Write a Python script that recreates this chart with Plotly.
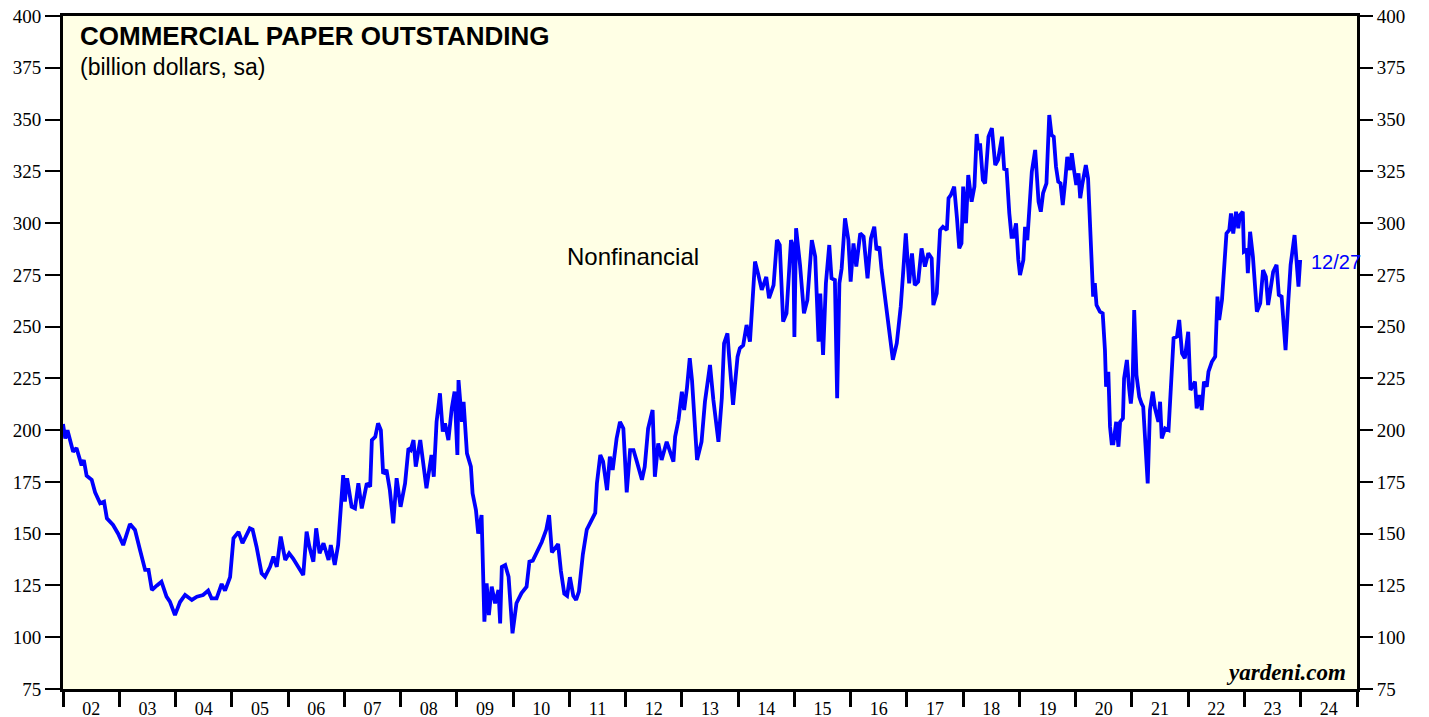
import plotly.graph_objects as go

# Nonfinancial commercial paper outstanding, billion dollars, sa
dates = [
    2002.00, 2002.04, 2002.08, 2002.18, 2002.24, 2002.27, 2002.33, 2002.37, 2002.42, 2002.51,
    2002.57, 2002.66, 2002.73, 2002.78, 2002.89, 2002.98, 2003.07, 2003.19, 2003.28, 2003.37,
    2003.46, 2003.52, 2003.58, 2003.67, 2003.75, 2003.84, 2003.90, 2003.99, 2004.08, 2004.17,
    2004.29, 2004.38, 2004.49, 2004.58, 2004.64, 2004.73, 2004.82, 2004.88, 2004.97, 2005.03,
    2005.12, 2005.19, 2005.32, 2005.37, 2005.44, 2005.53, 2005.59, 2005.68, 2005.74, 2005.80,
    2005.87, 2005.95, 2006.02, 2006.09, 2006.18, 2006.21, 2006.27, 2006.33, 2006.38, 2006.45,
    2006.50, 2006.56, 2006.63, 2006.72, 2006.76, 2006.83, 2006.89, 2006.98, 2007.01, 2007.05,
    2007.13, 2007.19, 2007.25, 2007.31, 2007.40, 2007.46, 2007.49, 2007.55, 2007.58, 2007.60,
    2007.65, 2007.69, 2007.75, 2007.81, 2007.87, 2007.93, 2008.00, 2008.08, 2008.14, 2008.18,
    2008.23, 2008.27, 2008.35, 2008.40, 2008.46, 2008.55, 2008.59, 2008.64, 2008.70, 2008.75,
    2008.79, 2008.85, 2008.91, 2008.96, 2009.01, 2009.03, 2009.09, 2009.12, 2009.18, 2009.25,
    2009.28, 2009.34, 2009.38, 2009.44, 2009.49, 2009.53, 2009.57, 2009.62, 2009.68, 2009.74,
    2009.77, 2009.80, 2009.86, 2009.92, 2009.99, 2010.06, 2010.15, 2010.24, 2010.29, 2010.35,
    2010.44, 2010.51, 2010.59, 2010.64, 2010.69, 2010.75, 2010.80, 2010.85, 2010.91, 2010.96,
    2011.01, 2011.07, 2011.12, 2011.17, 2011.24, 2011.31, 2011.40, 2011.46, 2011.49, 2011.55,
    2011.60, 2011.67, 2011.72, 2011.77, 2011.84, 2011.90, 2011.96, 2012.02, 2012.08, 2012.14,
    2012.20, 2012.29, 2012.34, 2012.40, 2012.48, 2012.52, 2012.58, 2012.64, 2012.73, 2012.79,
    2012.85, 2012.88, 2012.94, 2013.00, 2013.04, 2013.09, 2013.14, 2013.18, 2013.23, 2013.27,
    2013.35, 2013.41, 2013.50, 2013.56, 2013.65, 2013.71, 2013.75, 2013.81, 2013.84, 2013.91,
    2013.99, 2014.03, 2014.09, 2014.15, 2014.21, 2014.26, 2014.30, 2014.36, 2014.42, 2014.50,
    2014.55, 2014.63, 2014.69, 2014.74, 2014.80, 2014.86, 2014.94, 2014.98, 2015.00, 2015.03,
    2015.10, 2015.17, 2015.23, 2015.31, 2015.37, 2015.43, 2015.46, 2015.51, 2015.56, 2015.62,
    2015.66, 2015.72, 2015.76, 2015.80, 2015.84, 2015.90, 2015.96, 2016.00, 2016.05, 2016.10,
    2016.17, 2016.23, 2016.30, 2016.36, 2016.42, 2016.46, 2016.51, 2016.55, 2016.61, 2016.67,
    2016.75, 2016.82, 2016.89, 2016.93, 2016.98, 2017.04, 2017.09, 2017.14, 2017.20, 2017.26,
    2017.32, 2017.38, 2017.44, 2017.47, 2017.53, 2017.59, 2017.64, 2017.71, 2017.74, 2017.78,
    2017.84, 2017.89, 2017.93, 2017.97, 2018.00, 2018.05, 2018.09, 2018.15, 2018.20, 2018.24,
    2018.27, 2018.30, 2018.35, 2018.39, 2018.45, 2018.51, 2018.57, 2018.62, 2018.69, 2018.73,
    2018.77, 2018.82, 2018.86, 2018.89, 2018.94, 2018.98, 2019.01, 2019.07, 2019.10, 2019.14,
    2019.19, 2019.22, 2019.28, 2019.34, 2019.38, 2019.42, 2019.48, 2019.53, 2019.57, 2019.61,
    2019.65, 2019.69, 2019.73, 2019.77, 2019.81, 2019.85, 2019.90, 2019.93, 2019.97, 2020.01,
    2020.05, 2020.08, 2020.12, 2020.18, 2020.22, 2020.25, 2020.28, 2020.31, 2020.34, 2020.37,
    2020.43, 2020.48, 2020.52, 2020.54, 2020.58, 2020.61, 2020.64, 2020.67, 2020.72, 2020.76,
    2020.79, 2020.84, 2020.86, 2020.91, 2020.95, 2020.98, 2021.01, 2021.04, 2021.08, 2021.13,
    2021.17, 2021.20, 2021.28, 2021.32, 2021.37, 2021.41, 2021.47, 2021.50, 2021.53, 2021.59,
    2021.65, 2021.69, 2021.74, 2021.80, 2021.84, 2021.89, 2021.94, 2022.00, 2022.04, 2022.12,
    2022.15, 2022.20, 2022.24, 2022.28, 2022.33, 2022.36, 2022.42, 2022.48, 2022.52, 2022.55,
    2022.60, 2022.68, 2022.73, 2022.76, 2022.80, 2022.85, 2022.89, 2022.92, 2022.97, 2022.99,
    2023.04, 2023.06, 2023.10, 2023.15, 2023.22, 2023.28, 2023.33, 2023.38, 2023.42, 2023.47,
    2023.51, 2023.57, 2023.61, 2023.66, 2023.73, 2023.78, 2023.82, 2023.89, 2023.93, 2023.96,
    2023.99,
]
cp_nonfin = [
    203.0, 196.0, 200.0, 189.6, 191.4, 188.0, 183.0, 185.6, 178.0, 176.0,
    170.0, 164.7, 165.5, 157.4, 154.2, 150.0, 144.5, 154.7, 151.8, 142.0,
    132.5, 132.5, 122.8, 125.0, 126.8, 119.6, 117.2, 110.7, 117.0, 120.4,
    118.0, 119.6, 120.4, 122.5, 118.8, 118.8, 125.7, 122.5, 129.0, 147.8,
    150.9, 145.4, 152.6, 152.0, 143.7, 130.9, 129.2, 134.0, 138.9, 134.0,
    148.6, 137.3, 140.5, 138.0, 134.0, 132.5, 130.0, 151.0, 143.7, 136.5,
    152.6, 140.5, 145.4, 137.3, 144.5, 134.9, 144.5, 178.3, 165.5, 176.8,
    163.0, 162.2, 174.3, 162.2, 174.3, 172.7, 195.2, 196.8, 201.7, 203.3,
    200.0, 179.0, 180.8, 171.0, 155.0, 176.8, 163.0, 174.3, 191.2, 190.4,
    195.2, 182.4, 195.2, 184.0, 172.0, 188.0, 177.5, 204.0, 217.8, 199.3,
    203.3, 195.2, 210.6, 218.6, 188.0, 224.2, 204.0, 213.7, 188.8, 182.4,
    169.5, 161.4, 150.0, 159.0, 107.5, 126.0, 110.7, 124.4, 116.4, 122.8,
    106.7, 134.0, 134.9, 129.2, 101.9, 116.4, 121.3, 124.4, 136.5, 137.0,
    142.0, 146.0, 152.0, 159.0, 141.0, 143.0, 145.0, 132.0, 121.0, 120.0,
    129.0, 120.0, 118.0, 122.0, 140.0, 152.0, 157.4, 160.0, 174.3, 188.0,
    184.8, 171.0, 187.2, 180.8, 196.0, 204.0, 200.8, 170.0, 190.4, 190.4,
    184.8, 176.0, 182.4, 200.8, 209.7, 177.5, 193.6, 185.6, 194.4, 188.8,
    184.8, 196.8, 204.9, 218.6, 209.7, 220.2, 234.7, 224.2, 200.0, 185.6,
    194.4, 213.7, 231.5, 214.6, 194.4, 215.4, 241.9, 246.7, 235.5, 212.2,
    235.5, 239.5, 241.0, 250.8, 242.7, 267.7, 281.4, 275.0, 267.7, 274.0,
    263.7, 270.0, 291.8, 289.4, 252.4, 256.4, 291.8, 288.6, 245.0, 297.5,
    279.8, 256.4, 262.8, 291.8, 283.8, 242.7, 266.0, 236.3, 270.9, 289.4,
    273.3, 272.5, 215.4, 270.9, 278.1, 302.3, 291.8, 271.7, 290.2, 279.0,
    295.0, 293.4, 273.3, 292.6, 298.2, 287.0, 288.6, 277.3, 265.3, 253.2,
    234.0, 242.0, 259.6, 274.9, 295.0, 270.9, 285.4, 270.0, 271.7, 287.8,
    279.0, 285.4, 283.0, 260.4, 266.0, 296.7, 298.2, 296.7, 312.0, 313.5,
    317.6, 302.3, 287.8, 290.2, 317.6, 299.9, 323.2, 310.3, 317.6, 343.0,
    335.3, 338.5, 320.8, 319.2, 341.7, 345.8, 328.0, 330.5, 341.7, 325.6,
    326.5, 304.7, 293.4, 293.4, 299.9, 282.2, 274.9, 282.2, 298.2, 291.8,
    312.7, 324.8, 335.3, 310.3, 305.5, 314.4, 319.2, 352.2, 342.5, 341.7,
    327.2, 320.0, 319.2, 308.7, 319.2, 332.0, 325.6, 333.7, 325.6, 318.4,
    324.0, 312.0, 319.2, 328.0, 321.6, 299.9, 290.2, 264.5, 271.0, 260.4,
    257.2, 256.4, 238.7, 221.0, 228.2, 201.7, 193.6, 193.6, 204.0, 192.0,
    204.0, 205.7, 225.0, 233.9, 220.2, 212.9, 221.0, 258.0, 226.6, 216.1,
    212.9, 211.3, 174.3, 209.7, 218.6, 210.5, 204.0, 213.7, 196.0, 200.8,
    200.0, 217.8, 244.4, 245.2, 253.2, 237.1, 234.7, 247.5, 219.4, 223.4,
    210.5, 217.0, 209.7, 223.4, 221.0, 228.2, 233.0, 235.5, 264.5, 253.2,
    262.8, 295.0, 296.7, 304.7, 295.0, 305.5, 297.5, 303.9, 305.5, 286.2,
    287.0, 275.8, 295.8, 283.8, 257.2, 261.3, 277.3, 274.1, 260.4, 269.3,
    276.5, 279.8, 265.3, 264.5, 238.7, 262.8, 279.8, 294.2, 277.3, 269.3,
    282.2,
]

years = list(range(2002, 2025))
year_labels = ['%02d' % (y % 100) for y in years]
y_ticks = list(range(75, 401, 25))

serif = 'Liberation Serif, Times New Roman, serif'
sans = 'Liberation Sans, Arial, sans-serif'

fig = go.Figure()
fig.add_trace(go.Scatter(x=dates, y=cp_nonfin, mode='lines',
                         line=dict(color='#0000FF', width=3.8),
                         name='Nonfinancial', hoverinfo='x+y'))
# invisible trace so the right-hand axis is drawn
fig.add_trace(go.Scatter(x=[dates[0]], y=[cp_nonfin[0]], yaxis='y2', mode='markers',
                         marker=dict(opacity=0), hoverinfo='skip', showlegend=False))

fig.update_layout(
    width=1429, height=717,
    margin=dict(l=63, r=72, t=16, b=28, autoexpand=False),
    paper_bgcolor='white',
    plot_bgcolor='#FFFFE5',
    showlegend=False,
    xaxis=dict(range=[2002, 2025], tickvals=[y + 0.5 for y in years], ticktext=year_labels,
               ticks='outside', ticklen=1, tickcolor='rgba(0,0,0,0)',
               minor=dict(tickvals=list(range(2002, 2026)), ticks='outside', ticklen=15,
                          tickwidth=2.5, tickcolor='black', showgrid=False),
               showline=True, linewidth=3, linecolor='black', mirror=True,
               showgrid=False, zeroline=False, automargin=False,
               tickfont=dict(family=serif, size=18, color='black')),
    yaxis=dict(range=[75, 400], tickvals=y_ticks, ticks='outside', ticklen=15,
               tickwidth=1.5, tickcolor='black',
               showline=True, linewidth=3, linecolor='black', mirror=True,
               showgrid=False, zeroline=False, automargin=False,
               tickfont=dict(family=serif, size=19, color='black')),
    yaxis2=dict(range=[75, 400], tickvals=y_ticks, overlaying='y', side='right',
                ticks='outside', ticklen=15, tickwidth=1.5, tickcolor='black',
                showline=False, showgrid=False, zeroline=False, automargin=False,
                tickfont=dict(family=serif, size=19, color='black')),
)

fig.add_annotation(text='<b>COMMERCIAL PAPER OUTSTANDING</b>', xref='paper', yref='paper',
                   x=0.0116, y=0.970, xanchor='left', yanchor='middle', showarrow=False,
                   font=dict(family=sans, size=26, color='black'))
fig.add_annotation(text='(billion dollars, sa)', xref='paper', yref='paper',
                   x=0.0116, y=0.924, xanchor='left', yanchor='middle', showarrow=False,
                   font=dict(family=sans, size=23, color='black'))
fig.add_annotation(text='Nonfinancial', xref='paper', yref='paper',
                   x=0.4405, y=0.642, xanchor='center', yanchor='middle', showarrow=False,
                   font=dict(family=sans, size=24, color='black'))
fig.add_annotation(text='12/27', xref='paper', yref='paper',
                   x=0.9629, y=0.6345, xanchor='left', yanchor='middle', showarrow=False,
                   font=dict(family=sans, size=20, color='#0000FF'))
fig.add_annotation(text='<b><i>yardeni.com</i></b>', xref='paper', yref='paper',
                   x=0.993, y=0.0238, xanchor='right', yanchor='middle', showarrow=False,
                   font=dict(family=serif, size=23, color='black'))

fig.write_html('out.html', config={'displayModeBar': False},
               post_script="document.body.style.margin='0px';")
